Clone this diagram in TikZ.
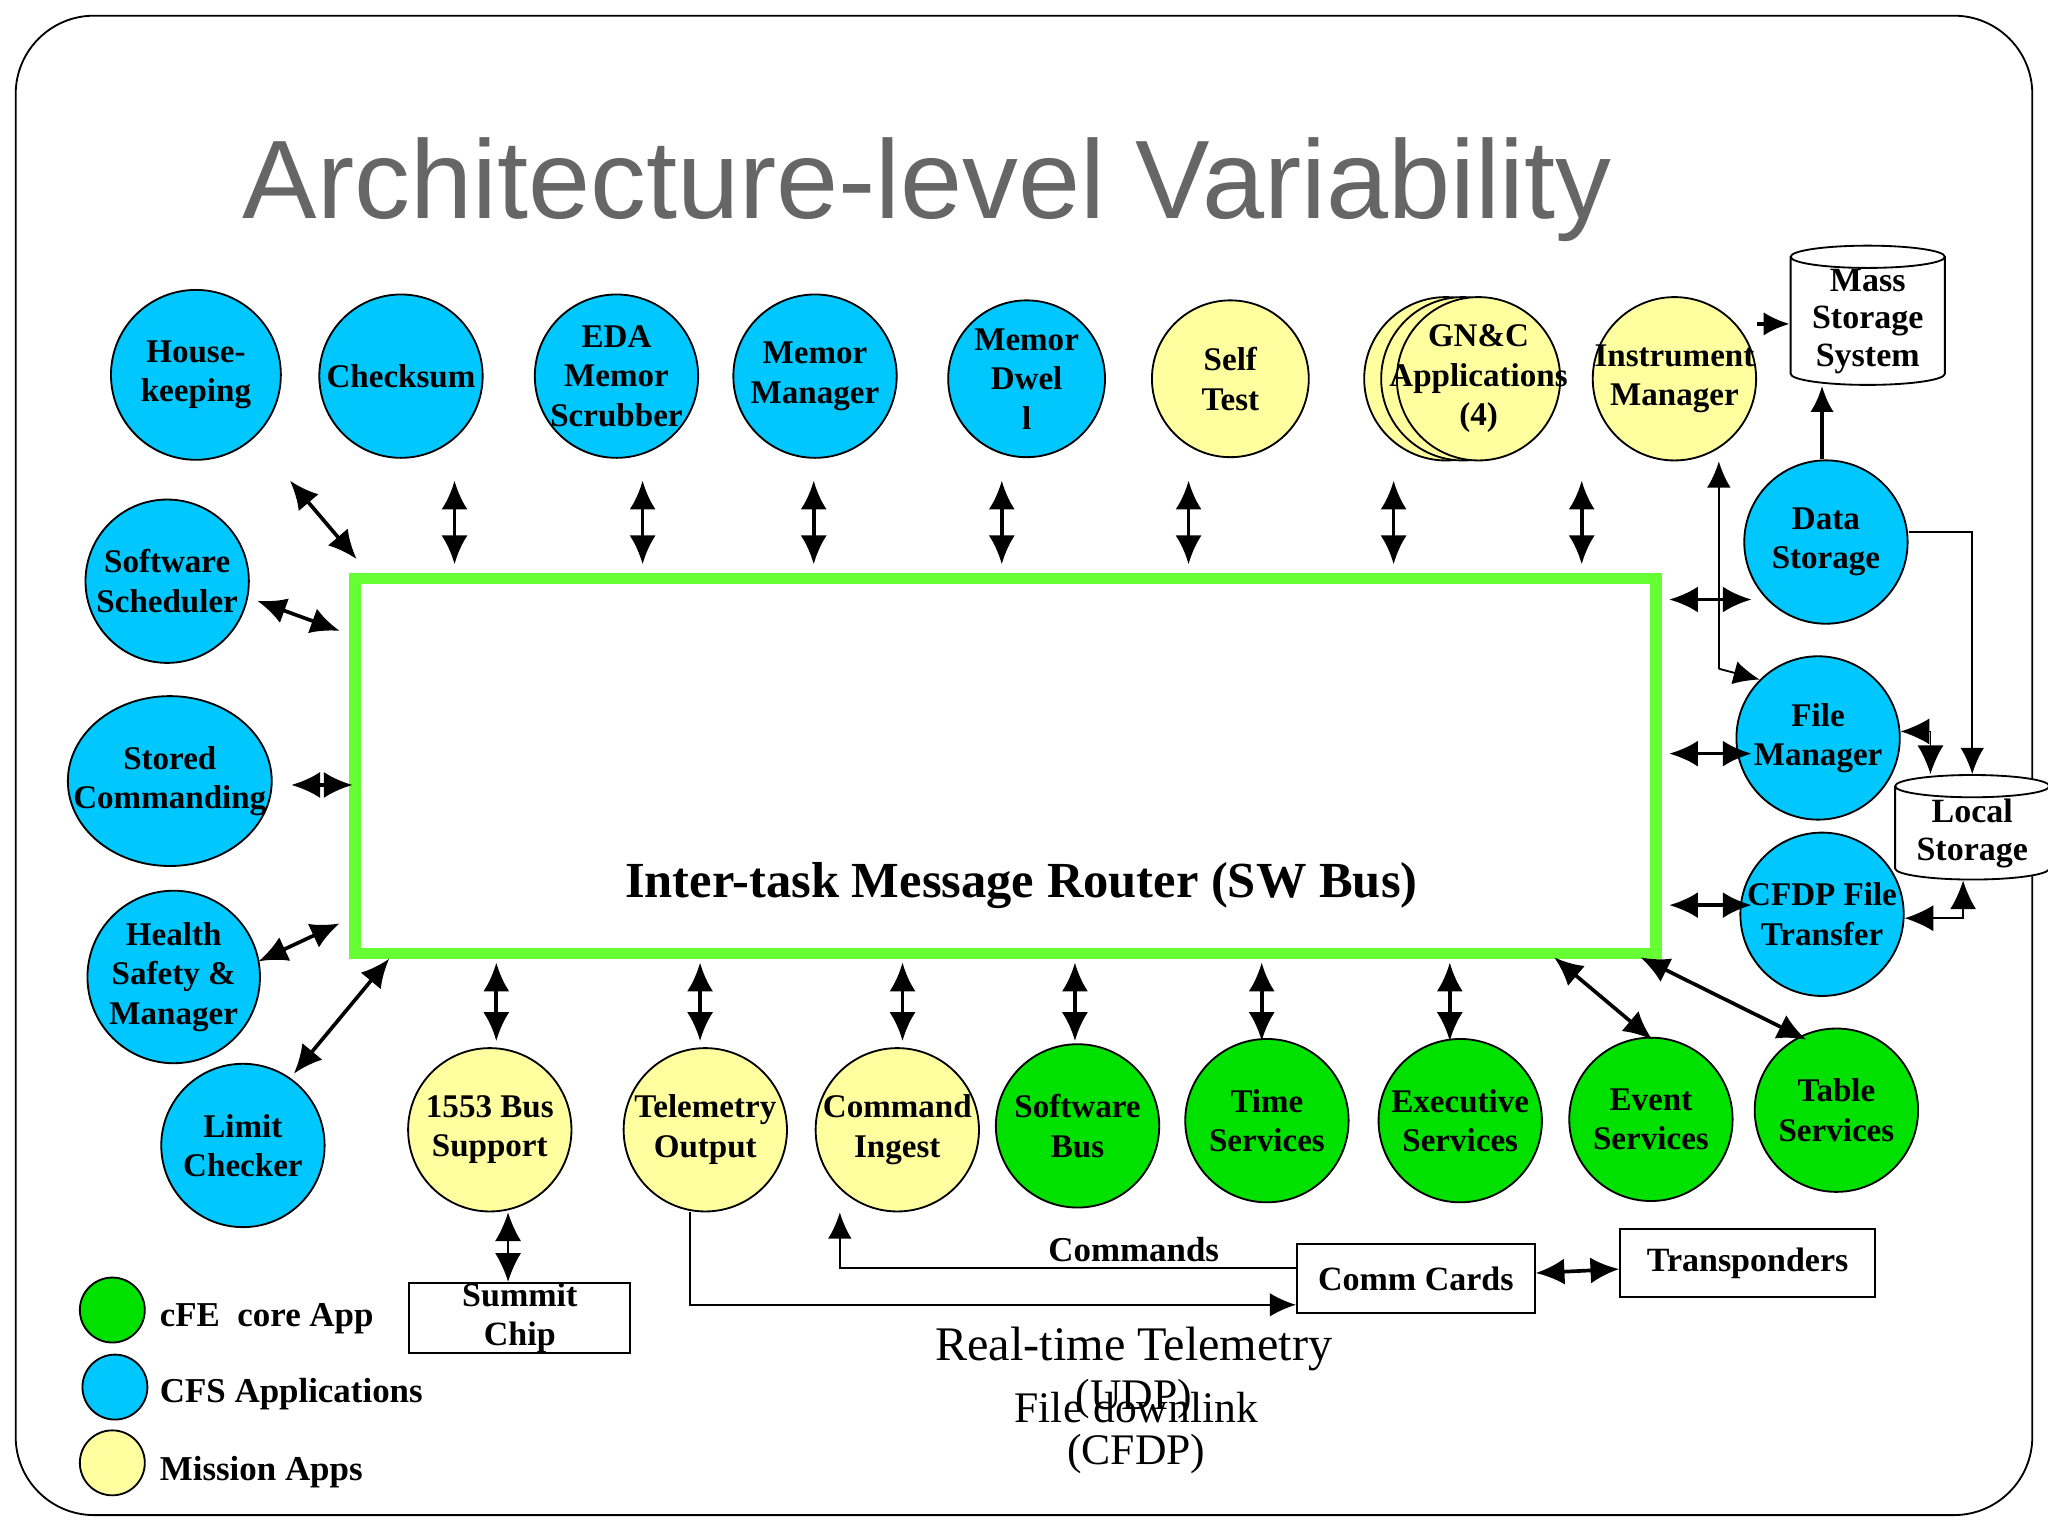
\documentclass[tikz,border=0pt]{standalone}
\usepackage{fontspec}
\setmainfont{Liberation Serif}
\newfontfamily\titlefont{Liberation Sans}
\usetikzlibrary{shapes.geometric,arrows.meta}
\definecolor{cfsblue}{RGB}{0,200,255}
\definecolor{missyellow}{RGB}{255,255,160}
\definecolor{coregreen}{RGB}{0,225,0}
\definecolor{busgreen}{RGB}{102,255,51}
\tikzset{
  app/.style={circle, draw=black, thin, minimum size=1.25cm, inner sep=-5pt, align=center,
    font=\fontsize{7.2}{8.6}\selectfont\bfseries},
  cfs/.style={app, fill=cfsblue},
  mission/.style={app, fill=missyellow},
  core/.style={app, fill=coregreen},
  box/.style={draw=black, thin, fill=white, align=center, font=\fontsize{7.4}{8.6}\selectfont\bfseries},
  store/.style={cylinder, shape border rotate=90, aspect=0.2, draw=black, thin, fill=white,
    align=center, inner sep=0pt, font=\fontsize{7.4}{8.2}\selectfont\bfseries},
  link/.style={black, thick, {Latex[length=2.2mm,width=2mm]}-{Latex[length=2.2mm,width=2mm]}},
  feed/.style={black, thin, -{Latex[length=2mm,width=1.8mm]}},
  legend/.style={anchor=west, font=\fontsize{7.6}{8}\selectfont\bfseries}
}
\begin{document}
\begin{tikzpicture}[x=0.01cm, y=-0.01cm]
        \useasboundingbox (0,0) rectangle (1568,1176);
        \draw[black, thin, rounded corners=0.6cm] (12,12) rectangle (1556,1160);
        \node[text=black!60, font=\titlefont\fontsize{24.3}{24.3}\selectfont] (title) at (710,145) {Architecture-level Variability};

        % software bus
        \draw[busgreen, line width=0.09cm] (272,443) rectangle (1268,730);
        \node[font=\fontsize{11}{11}\selectfont\bfseries] (router) at (782,678) {Inter-task Message Router (SW Bus)};

        % top row
        \node[cfs, minimum size=1.3cm] (hk) at (150,287) {House-\\keeping};
        \node[cfs] (cs) at (307,288) {Checksum};
        \node[cfs] (eda) at (472,288) {EDA\\Memor\\Scrubber};
        \node[cfs] (mm) at (624,288) {Memor\\Manager};
        \node[cfs, minimum size=1.2cm] (md) at (786,290) {Memor\\Dwel\\l};
        \node[mission, minimum size=1.2cm] (st) at (942,290) {Self\\Test};
        \node[mission] (gnc1) at (1107,290) {};
        \node[mission] (gnc2) at (1120,290) {};
        \node[mission] (gnc) at (1132,290) {GN\&C\\Applications\\(4)};
        \node[mission] (im) at (1282,290) {Instrument\\Manager};

        % right column
        \node[store, minimum width=1.18cm, minimum height=1cm] (mass) at (1430,246) {Mass\\Storage\\System};
        \node[cfs] (ds) at (1398,415) {Data\\Storage};
        \node[cfs] (fm) at (1392,565) {File\\Manager};
        \node[store, minimum width=1.18cm, minimum height=0.8cm] (local) at (1510,638) {Local\\Storage};
        \node[cfs] (cfdp) at (1395,700) {CFDP File\\Transfer};

        % left column
        \node[cfs] (sched) at (128,445) {Software\\Scheduler};
        \node[cfs, ellipse, minimum width=1.56cm, minimum height=1.3cm, inner sep=-6pt] (sc) at (130,598) {Stored\\Commanding};
        \node[cfs, minimum size=1.32cm] (hs) at (133,748) {Health\\Safety \&\\Manager};
        \node[cfs] (lc) at (186,877) {Limit\\Checker};

        % bottom row
        \node[mission] (bus1553) at (375,865) {1553 Bus\\Support};
        \node[mission] (to) at (540,865) {Telemetry\\Output};
        \node[mission] (ci) at (687,865) {Command\\Ingest};
        \node[core] (sb) at (825,862) {Software\\Bus};
        \node[core] (ts) at (970,858) {Time\\Services};
        \node[core] (es) at (1118,858) {Executive\\Services};
        \node[core] (evs) at (1264,857) {Event\\Services};
        \node[core] (tbl) at (1406,850) {Table\\Services};

        % boxes
        \node[box, minimum width=1.69cm, minimum height=0.49cm, inner sep=0pt] (summit) at (398,1009) {Summit\\Chip};
        \node[box, minimum width=1.82cm, minimum height=0.53cm] (comm) at (1084,979) {Comm Cards};
        \node[box, minimum width=1.95cm, minimum height=0.52cm] (trans) at (1338,967) {Transponders};

        % bus links, top
        \foreach \x/\n in {348/cs, 492/eda, 623/mm, 767/md, 910/st, 1067/gnc, 1211/im}
          \draw[link] (\x,368) coordinate (\n-t) -- (\x,432) coordinate (\n-b);
        \coordinate (hk-a) at (222,368); \coordinate (hk-b) at (273,428);
        \draw[link] (hk-a) -- (hk-b);
        % bus links, left
        \coordinate (sched-a) at (197,460); \coordinate (sched-b) at (260,483);
        \draw[link] (sched-a) -- (sched-b);
        \coordinate (sc-a) at (223,601); \coordinate (sc-b) at (270,601);
        \draw[link] (sc-a) -- (sc-b);
        \coordinate (hs-a) at (198,736); \coordinate (hs-b) at (260,707);
        \draw[link] (hs-a) -- (hs-b);
        \coordinate (lc-a) at (225,822); \coordinate (lc-b) at (298,734);
        \draw[link] (lc-a) -- (lc-b);
        % bus links, bottom
        \foreach \x/\n in {380/bus1553, 536/to, 691/ci, 823/sb, 966/ts, 1110/es}
          \draw[link] (\x,737) coordinate (\n-t) -- (\x,797) coordinate (\n-b);
        \coordinate (evs-a) at (1190,733); \coordinate (evs-b) at (1265,796);
        \draw[link] (evs-a) -- (evs-b);
        \coordinate (tbl-a) at (1256,733); \coordinate (tbl-b) at (1383,796);
        \draw[link] (tbl-a) -- (tbl-b);
        % bus links, right
        \foreach \y/\n in {459/ds, 577/fm, 693/cfdp}
          \draw[link] (1278,\y) coordinate (\n-a) -- (1341,\y) coordinate (\n-b);

        % storage paths
        \draw[feed, thick] (im.east |- 0,248) -- (mass.west |- 0,248);
        \draw[feed, thick] (ds.north -| 1395,0) -- (mass.south -| 1395,0);
        \coordinate (ds-c) at (1510,407);
        \draw[feed] (ds.east |- ds-c) -- (ds-c) -- (local.north -| ds-c);
        \coordinate (im-c) at (1316,512);
        \draw[feed] (im-c) -- (im.south -| im-c);
        \draw[feed] (im-c) -- (fm.north west);
        \coordinate (fm-c) at (1478,560);
        \draw[link, thin] (fm.east |- fm-c) -- (fm-c) -- (local.north -| fm-c);
        \coordinate (cfdp-c) at (1503,703);
        \draw[link, thin] (cfdp.east |- cfdp-c) -- (cfdp-c) -- (local.south -| cfdp-c);

        % ground links
        \draw[link, thin] (bus1553.south -| 389,0) -- (summit.north -| 389,0);
        \coordinate (to-c) at (528,999);
        \draw[feed] (to.south -| to-c) -- (to-c) -- (comm.west |- to-c);
        \coordinate (ci-c) at (643,971);
        \draw[feed] (comm.west |- ci-c) -- (ci-c) -- (ci.south -| ci-c);
        \draw[link] (comm) -- (trans);

        \node[font=\fontsize{7.6}{8}\selectfont\bfseries] (cmds) at (868,957) {Commands};
        \node[font=\fontsize{10.5}{10.5}\selectfont] (rtt) at (868,1033) {Real-time Telemetry};
        \node[font=\fontsize{9.5}{9.5}\selectfont] (udp) at (868,1071) {(UDP)};
        \node[font=\fontsize{9.5}{9.5}\selectfont] (fdl) at (870,1078) {File downlink};
        \node[font=\fontsize{9.5}{9.5}\selectfont] (cfdpl) at (870,1113) {(CFDP)};

        % legend
        \node[core, minimum size=0.44cm] (lg1) at (86,1003) {};
        \node[legend] at (110,1010) {cFE\ \ core App};
        \node[cfs, minimum size=0.44cm] (lg2) at (88,1062) {};
        \node[legend] at (110,1067) {CFS Applications};
        \node[mission, minimum size=0.44cm] (lg3) at (86,1120) {};
        \node[legend] at (110,1127) {Mission Apps};
\end{tikzpicture}
\end{document}
